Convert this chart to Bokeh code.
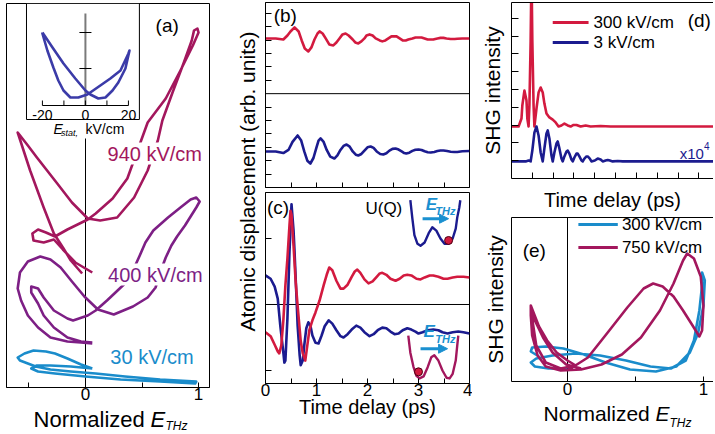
import math
from bokeh.plotting import figure
from bokeh.models import Range1d, FixedTicker, Label, LinearAxis, Arrow, NormalHead
from bokeh.layouts import row, column
from bokeh.embed import file_html
from bokeh.resources import INLINE

FONT = "Liberation Sans"
C940 = "#a3175d"
C400 = "#7d1f85"
C30 = "#1a8ccb"
NAVY = "#1b1b8f"
RED = "#d31a3f"
INSET = "#3b3ba8"
EBLUE = "#1a90d0"

# ---------------- panel (a): trajectories vs normalized E_THz ----------------
a940_x = [-0.03, -0.13, -0.20, -0.28, -0.37, -0.49, -0.60, -0.51, -0.43, -0.25, -0.12, 0.02,
          0.13, 0.28, 0.43, 0.55, 0.64, 0.68, 0.77, 0.87, 0.94, 0.96, 0.99, 1.00, 0.95, 0.84,
          0.71, 0.55, 0.46, 0.37, 0.24, 0.09, 0.02, -0.16, -0.27, -0.35, -0.42, -0.47, -0.46,
          -0.37, -0.28, -0.20, -0.09, 0.06]
a940_y = [1.14, 1.27, 1.40, 1.54, 1.80, 2.17, 2.55, 2.42, 2.30, 2.04, 1.85, 1.69,
          1.67, 1.70, 1.90, 2.17, 2.47, 2.67, 2.95, 3.25, 3.47, 3.57, 3.59, 3.55, 3.42, 3.17,
          2.89, 2.65, 2.37, 2.09, 1.89, 1.74, 1.68, 1.58, 1.51, 1.55, 1.58, 1.54, 1.47,
          1.45, 1.48, 1.38, 1.25, 1.15]
a400_x = [0.06, -0.04, -0.16, -0.31, -0.42, -0.51, -0.57, -0.60, -0.58, -0.51, -0.40, -0.31,
          -0.22, -0.12, -0.01, 0.11, 0.25, 0.42, 0.55, 0.62, 0.66, 0.71, 0.76, 0.81, 0.88,
          0.93, 0.98, 1.01, 0.98, 0.93, 0.84, 0.73, 0.60, 0.53, 0.48, 0.42, 0.34, 0.19, 0.09,
          0.02, -0.11, -0.16, -0.28, -0.37, -0.42, -0.48, -0.48, -0.42, -0.37, -0.28, -0.16,
          -0.04, 0.06]
a400_y = [0.44, 0.45, 0.46, 0.50, 0.60, 0.72, 0.87, 0.99, 1.15, 1.26, 1.31, 1.28,
          1.20, 1.06, 0.91, 0.78, 0.73, 0.81, 0.90, 1.00, 1.15, 1.30, 1.42, 1.51, 1.62,
          1.71, 1.80, 1.86, 1.90, 1.88, 1.80, 1.70, 1.57, 1.45, 1.32, 1.17, 1.03, 0.87, 0.77,
          0.72, 0.67, 0.69, 0.77, 0.90, 0.99, 1.01, 0.95, 0.84, 0.72, 0.60, 0.50,
          0.46, 0.45]
a30_x = [0.06, -0.04, -0.16, -0.27, -0.35, -0.46, -0.54, -0.60, -0.58, -0.51, -0.44, -0.31,
         -0.13, 0.09, 0.35, 0.66, 0.98, 0.97, 0.66, 0.31, 0.00, -0.27, -0.42, -0.48, -0.43,
         -0.31, -0.13, 0.06]
a30_y = [0.19, 0.23, 0.29, 0.34, 0.36, 0.37, 0.34, 0.30, 0.27, 0.24, 0.21, 0.18,
         0.16, 0.14, 0.11, 0.08, 0.06, 0.04, 0.06, 0.08, 0.11, 0.14, 0.16, 0.19, 0.22,
         0.22, 0.21, 0.19]
a_ticks = [-0.5, 0, 0.5, 1]

# inset of (a): static-field loop
ins_E = [-20.0, -15.3, -10.2, -4.7, 0.0, 2.3, 6.0, 9.3, 12.6, 15.3, 18.6, 20.5,
         20.0, 16.3, 11.6, 5.6, 0.9, -3.3, -7.0, -10.2, -12.6, -14.9, -17.7, -20.0, -20.0]
ins_y = [73, 58, 42, 27, 15, 11, 7, 8, 15, 23, 37, 55,
         52, 35, 27, 18, 11, 8, 8, 15, 25, 38, 55, 72, 73]
ins_ticks = [-20, -10, 0, 10, 20]
ins_labels = ["-20", "0", "20"]
ins_label_pos = [-20, 0, 20]

# ---------------- panel (b) ----------------
b_t_red = [0.00, 0.20, 0.35, 0.43, 0.49, 0.57, 0.65, 0.71, 0.77, 0.84, 0.90, 0.96, 1.02, 1.06, 1.12,
           1.18, 1.25, 1.33, 1.39, 1.45, 1.51, 1.57, 1.63, 1.71, 1.76, 1.82, 1.88, 1.94, 1.98, 2.04,
           2.10, 2.16, 2.24, 2.29, 2.35, 2.41, 2.47, 2.51, 2.57, 2.63, 2.69, 2.75, 2.80, 2.88, 2.94,
           3.00, 3.06, 3.12, 3.18, 3.24, 3.29, 3.37, 3.43, 3.49, 3.55, 3.63, 3.71, 3.76, 3.86, 4.00]
b_red = [11.12, 11.12, 11.04, 11.34, 11.64, 11.94, 11.64, 10.97, 10.37, 10.15, 10.45, 11.04, 11.49,
         11.64, 11.49, 11.12, 10.67, 10.60, 10.82, 11.12, 11.42, 11.49, 11.34, 11.04, 10.82, 10.75,
         10.90, 11.12, 11.34, 11.42, 11.34, 11.12, 10.97, 10.90, 10.97, 11.12, 11.27, 11.27, 11.27,
         11.12, 10.97, 10.97, 11.04, 11.12, 11.19, 11.19, 11.19, 11.12, 11.04, 11.04, 11.04, 11.12,
         11.16, 11.16, 11.12, 11.08, 11.08, 11.10, 11.12, 11.12]
b_t_navy = [0.00, 0.20, 0.35, 0.45, 0.53, 0.63, 0.70, 0.76, 0.82, 0.88, 0.94, 1.00, 1.04, 1.08, 1.14,
            1.20, 1.27, 1.35, 1.41, 1.47, 1.53, 1.59, 1.65, 1.71, 1.77, 1.82, 1.88, 1.94, 2.00, 2.06,
            2.12, 2.18, 2.25, 2.31, 2.37, 2.43, 2.49, 2.55, 2.61, 2.67, 2.72, 2.76, 2.82, 2.88, 2.94,
            3.00, 3.06, 3.12, 3.18, 3.24, 3.31, 3.37, 3.43, 3.49, 3.56, 3.63, 3.70, 3.76, 3.86, 4.00]
b_navy = [2.69, 2.69, 2.57, 2.80, 3.40, 3.88, 3.50, 2.69, 2.00, 1.79, 2.20, 3.00, 3.50, 3.66, 3.40,
          2.80, 2.30, 2.16, 2.40, 2.80, 3.10, 3.21, 3.05, 2.69, 2.45, 2.39, 2.50, 2.75, 3.00, 3.06,
          2.95, 2.69, 2.50, 2.46, 2.55, 2.75, 2.88, 2.91, 2.83, 2.69, 2.57, 2.54, 2.60, 2.73, 2.82,
          2.84, 2.80, 2.70, 2.63, 2.61, 2.65, 2.72, 2.76, 2.76, 2.72, 2.67, 2.65, 2.65, 2.70, 2.72]
b_xticks = [0.5, 1, 1.5, 2, 2.5, 3, 3.5]
b_yticks = [1, 2, 3, 4, 5, 6, 8, 9, 10, 11, 12, 13]
b_divider = 7

# ---------------- panel (c) ----------------
c_t_navy = [0.00, 0.10, 0.18, 0.24, 0.29, 0.35, 0.37, 0.39, 0.43, 0.47, 0.51, 0.55, 0.57, 0.61, 0.63,
            0.67, 0.69, 0.73, 0.76, 0.80, 0.84, 0.88, 0.92, 0.98, 1.04, 1.10, 1.16, 1.24, 1.31, 1.39,
            1.47, 1.53, 1.61, 1.69, 1.78, 1.86, 1.94, 2.04, 2.12, 2.20, 2.29, 2.37, 2.45, 2.53, 2.61,
            2.69, 2.78, 2.86, 2.94, 3.00, 3.08, 3.18, 3.29, 3.39, 3.47, 3.57, 3.67, 3.78, 3.88, 4.00]
c_navy = [2.44, 2.39, 2.27, 2.09, 1.68, 1.27, 1.12, 1.15, 1.79, 2.79, 3.52, 3.12, 2.79, 2.06, 1.68,
          1.23, 1.08, 1.15, 1.38, 1.64, 1.73, 1.68, 1.53, 1.42, 1.41, 1.53, 1.67, 1.76, 1.71, 1.61,
          1.52, 1.50, 1.55, 1.62, 1.68, 1.65, 1.58, 1.52, 1.55, 1.61, 1.65, 1.64, 1.59, 1.55, 1.56,
          1.61, 1.64, 1.62, 1.59, 1.56, 1.58, 1.61, 1.62, 1.61, 1.58, 1.56, 1.58, 1.59, 1.58, 1.56]
c_t_red = [0.00, 0.10, 0.18, 0.24, 0.27, 0.31, 0.35, 0.39, 0.43, 0.47, 0.49, 0.51, 0.55, 0.59, 0.63,
           0.69, 0.73, 0.78, 0.82, 0.86, 0.92, 0.98, 1.06, 1.14, 1.20, 1.25, 1.31, 1.39, 1.47, 1.53,
           1.61, 1.69, 1.75, 1.80, 1.86, 1.94, 2.02, 2.10, 2.18, 2.24, 2.29, 2.37, 2.45, 2.55, 2.63,
           2.71, 2.78, 2.86, 2.96, 3.04, 3.12, 3.22, 3.29, 3.39, 3.49, 3.57, 3.67, 3.76, 3.88, 4.00]
c_red = [1.58, 1.52, 1.39, 1.29, 1.26, 1.38, 1.76, 2.29, 2.70, 3.20, 3.42, 3.36, 2.89, 2.36, 1.98,
         1.45, 1.26, 1.15, 1.38, 1.61, 1.76, 1.88, 2.06, 2.29, 2.45, 2.56, 2.52, 2.36, 2.24, 2.24,
         2.30, 2.42, 2.50, 2.53, 2.48, 2.38, 2.32, 2.35, 2.42, 2.47, 2.48, 2.45, 2.39, 2.36, 2.39,
         2.44, 2.45, 2.44, 2.39, 2.38, 2.41, 2.44, 2.44, 2.42, 2.39, 2.39, 2.41, 2.42, 2.42, 2.41]
c_xticks = [0, 0.5, 1, 1.5, 2, 2.5, 3, 3.5, 4]
c_yticks = [1, 3]
c_divider = 2
# schematic double-well potentials U(Q)
well_up_t = [2.84, 2.88, 2.92, 2.98, 3.04, 3.12, 3.20, 3.27, 3.35, 3.43, 3.51, 3.59, 3.67, 3.73, 3.76, 3.80, 3.82]
well_up_u = [3.58, 3.30, 3.05, 2.92, 2.89, 2.94, 3.08, 3.17, 3.12, 3.00, 2.92, 2.92, 3.00, 3.15, 3.32, 3.47, 3.58]
well_lo_t = [2.80, 2.84, 2.90, 2.96, 3.02, 3.10, 3.18, 3.25, 3.31, 3.39, 3.47, 3.55, 3.61, 3.67, 3.73, 3.76, 3.78]
well_lo_u = [1.53, 1.27, 1.06, 0.92, 0.88, 0.91, 1.05, 1.20, 1.23, 1.15, 1.00, 0.89, 0.88, 0.95, 1.15, 1.38, 1.53]
ball_t = [3.59, 3.00]
ball_u = [2.97, 0.98]

# ---------------- panel (d) ----------------
d_t_red = [0, 0.17, 0.24, 0.26, 0.31, 0.36, 0.38, 0.41, 0.43, 0.46, 0.48, 0.50, 0.53, 0.55, 0.60,
           0.65, 0.70, 0.75, 0.79, 0.84, 0.91, 0.99, 1.06, 1.13, 1.20, 1.27, 1.35, 1.42, 1.49, 1.56,
           1.66, 1.78, 1.90, 2.14, 2.38, 4.90]
d_red = [2.92, 2.92, 3.37, 4.10, 4.94, 4.38, 3.37, 2.92, 4.10, 7.75, 11.7, 7.75, 4.10, 2.92, 3.93,
         4.83, 5.11, 4.83, 4.21, 3.65, 3.43, 3.31, 3.15, 2.92, 2.98, 3.09, 2.98, 2.92, 3.01, 3.01,
         2.92, 2.98, 2.92, 2.95, 2.92, 2.92]
d_t_navy = [0, 0.34, 0.41, 0.46, 0.50, 0.55, 0.60, 0.65, 0.70, 0.75, 0.79, 0.84, 0.87, 0.91, 0.96,
            0.99, 1.03, 1.08, 1.11, 1.15, 1.20, 1.23, 1.27, 1.32, 1.35, 1.39, 1.44, 1.47, 1.51, 1.56,
            1.59, 1.63, 1.68, 1.71, 1.75, 1.80, 1.83, 1.88, 1.92, 2.00, 2.07, 2.14, 2.19, 2.26, 2.31,
            2.36, 2.43, 2.55, 2.67, 4.90]
d_navy = [0.96, 0.96, 1.01, 0.96, 1.57, 2.58, 2.92, 2.42, 1.46, 0.96, 1.69, 2.53, 2.70, 2.25, 1.29,
          0.96, 1.46, 1.97, 2.08, 1.69, 1.12, 0.96, 1.24, 1.52, 1.57, 1.40, 1.07, 0.96, 1.18, 1.40,
          1.40, 1.24, 1.01, 0.96, 1.12, 1.24, 1.24, 1.12, 0.96, 1.01, 1.12, 1.07, 0.96, 1.01, 1.04,
          1.01, 0.96, 0.98, 0.96, 0.96]
d_xticks = [0.5, 1, 1.5, 2, 2.5, 3, 3.5, 4, 4.5]
d_yticks = [1, 2, 3, 4, 5, 6, 7, 8, 9]
d_series = ["300 kV/cm", "3 kV/cm"]

# ---------------- panel (e) ----------------
e300_x = [0, -0.14, -0.24, -0.27, -0.23, -0.11, 0.06, 0.24, 0.43, 0.61, 0.76, 0.87, 0.93, 0.97, 0.99,
          0.99, 1.01, 1.00, 0.96, 0.90, 0.80, 0.65, 0.46, 0.28, 0.12, -0.03, -0.16, -0.26, -0.27, -0.21]
e300_y = [0.13, 0.13, 0.15, 0.19, 0.23, 0.26, 0.28, 0.26, 0.21, 0.15, 0.13, 0.21, 0.41, 0.71, 0.96,
          1.09, 1.01, 0.76, 0.48, 0.29, 0.15, 0.10, 0.12, 0.19, 0.27, 0.33, 0.35, 0.34, 0.30, 0.25]
e750_x = [0, 0.15, 0.29, 0.44, 0.56, 0.63, 0.70, 0.78, 0.85, 0.92, 0.97, 0.99, 1.00, 0.98, 0.93,
          0.88, 0.85, 0.78, 0.68, 0.54, 0.40, 0.25, 0.10, -0.05, -0.16, -0.22, -0.26, -0.27, -0.27, -0.25,
          -0.21, -0.15, -0.08, 0, 0.06, -0.05, -0.16, -0.23, -0.26, -0.27, -0.24, -0.18, -0.11, -0.01, 0.10]
e750_y = [0.11, 0.24, 0.48, 0.74, 0.93, 0.98, 0.95, 0.85, 0.71, 0.56, 0.45, 0.51, 0.76, 1.05, 1.23,
          1.28, 1.21, 0.98, 0.71, 0.44, 0.27, 0.17, 0.12, 0.11, 0.15, 0.26, 0.46, 0.66, 0.76, 0.69,
          0.55, 0.41, 0.29, 0.21, 0.16, 0.13, 0.19, 0.36, 0.63, 0.75, 0.61, 0.44, 0.29, 0.17, 0.13]
e_xticks = [0, 0.5, 1]
e_series = ["300 kV/cm", "750 kV/cm"]


# ---------------- helpers ----------------
def base_fig(w, h, xr, yr, l, r, t, b, outline=True):
    p = figure(width=w, height=h, x_range=Range1d(*xr), y_range=Range1d(*yr),
               x_axis_location=None, y_axis_location=None,
               output_backend="svg", toolbar_location=None,
               min_border_left=l, min_border_right=r, min_border_top=t, min_border_bottom=b)
    p.outline_line_color = "black" if outline else None
    p.outline_line_width = 1
    p.background_fill_color = "white"
    p.border_fill_color = "white"
    p.grid.visible = False
    return p


def add_axis(p, side, ticks, overrides=None, tick_in=5, label_size="17px", label_standoff=0,
             title=None, title_size="20px", title_standoff=0, line=True):
    ax = LinearAxis(ticker=FixedTicker(ticks=ticks))
    ax.major_tick_in = tick_in
    ax.major_tick_out = 0
    ax.minor_tick_in = 0
    ax.minor_tick_out = 0
    ax.major_tick_line_color = "black"
    ax.major_tick_line_width = 1
    ax.axis_line_color = "black" if line else None
    ax.major_label_standoff = label_standoff
    ax.major_label_text_font = FONT
    ax.major_label_text_color = "black"
    if overrides is None:
        ax.major_label_text_font_size = "0px"
        ax.major_label_overrides = {tk: "" for tk in ticks}
    else:
        ax.major_label_text_font_size = label_size
        ax.major_label_overrides = overrides
    if title:
        ax.axis_label = title
        ax.axis_label_text_font = FONT
        ax.axis_label_text_font_size = title_size
        ax.axis_label_text_font_style = "normal"
        ax.axis_label_text_color = "black"
        ax.axis_label_standoff = title_standoff
    p.add_layout(ax, side)
    return ax


def lab(p, x, y, text, size="17px", color="black", align="left", baseline="middle",
        style="normal", angle=0.0, bg=None, xr="default", yr="default"):
    l = Label(x=x, y=y, text=text, text_font=FONT, text_font_size=size, text_color=color,
              text_align=align, text_baseline=baseline, text_font_style=style, angle=angle,
              x_range_name=xr, y_range_name=yr)
    if bg:
        l.background_fill_color = bg
    p.add_layout(l)


A_XR = (-0.699, 1.097)
E_XR = (-0.412, 1.074)

# ---------------- figure (a) ----------------
pa = base_fig(230, 406, A_XR, (0, 3.84), 6, 21, 3, 19)
pa.extra_x_ranges = {"ins": Range1d(-36.7, 57.7)}
pa.extra_y_ranges = {"ins": Range1d(-282, 102)}
add_axis(pa, "below", a_ticks, overrides={-0.5: "", 0.5: ""}, tick_in=5, label_standoff=0)
pa.segment(x0=[0], y0=[0], x1=[0], y1=[2.49], line_color="black", line_width=1)
pa.line(a30_x, a30_y, line_color=C30, line_width=2.6, line_join="round")
pa.line(a400_x, a400_y, line_color=C400, line_width=2.6, line_join="round")
pa.line(a940_x, a940_y, line_color=C940, line_width=2.6, line_join="round")
# inset
pa.quad(left=[-27.4], right=[25.1], bottom=[-14], top=[102], fill_color="white",
        line_color="black", line_width=1, x_range_name="ins", y_range_name="ins")
pa.segment(x0=[0], y0=[0], x1=[0], y1=[92], line_color="#7a7a7a", line_width=2,
           x_range_name="ins", y_range_name="ins")
pa.segment(x0=[-20], y0=[0], x1=[20], y1=[0], line_color="black", line_width=1,
           x_range_name="ins", y_range_name="ins")
pa.segment(x0=ins_ticks, y0=[0] * 5, x1=ins_ticks, y1=[5] * 5, line_color="black",
           line_width=1, x_range_name="ins", y_range_name="ins")
pa.segment(x0=[-2.8, -2.8], y0=[37, 73], x1=[2.8, 2.8], y1=[37, 73], line_color="black",
           line_width=1, x_range_name="ins", y_range_name="ins")
pa.line(ins_E, ins_y, line_color=INSET, line_width=2.6, line_join="round",
        x_range_name="ins", y_range_name="ins")
for pos, txt in zip(ins_label_pos, ins_labels):
    lab(pa, pos, -9, txt, size="14px", align="center", xr="ins", yr="ins")
lab(pa, -14.9, -23, "E", size="14px", style="italic", xr="ins", yr="ins")
lab(pa, -11.4, -27, "stat,", size="9px", style="italic", xr="ins", yr="ins")
lab(pa, 0.0, -23, "kV/cm", size="14px", xr="ins", yr="ins")
lab(pa, 0.62, 3.62, "(a)", size="19px")
lab(pa, 0.195, 2.34, "940 kV/cm", size="20px", color=C940, bg="white")
lab(pa, 0.20, 1.13, "400 kV/cm", size="20px", color=C400, bg="white")
lab(pa, 0.22, 0.31, "30 kV/cm", size="20px", color=C30)

# x-axis title strip of (a): its frame is aligned with panel (a), same x scale
pa_t = base_fig(230, 26, A_XR, (0, 26), 6, 21, 0, 0, outline=False)
lab(pa_t, -0.46, 13.5, "Normalized", size="22px")
lab(pa_t, 0.575, 13.5, "E", size="22px", style="italic")
lab(pa_t, 0.708, 7.0, "THz", size="12px", style="italic")

# y-axis title strip shared by (b) and (c)
py_t = base_fig(30, 432, (0, 30), (0, 432), 0, 0, 0, 0, outline=False)
lab(py_t, 16.5, 251, "Atomic displacement (arb. units)", size="21px", align="center",
    angle=math.pi / 2)

# ---------------- figure (b) ----------------
pb = base_fig(212, 191, (0, 4), (0, 13.8), 5, 3, 2, 4)
add_axis(pb, "below", b_xticks, tick_in=5)
add_axis(pb, "left", b_yticks, tick_in=6)
pb.segment(x0=[0], y0=[b_divider], x1=[4], y1=[b_divider], line_color="black", line_width=1)
pb.line(b_t_red, b_red, line_color=RED, line_width=2.6, line_join="round")
pb.line(b_t_navy, b_navy, line_color=NAVY, line_width=2.6, line_join="round")
lab(pb, 0.16, 12.84, "(b)", size="19px")

# ---------------- figure (c) ----------------
pc = base_fig(212, 241, (0, 4), (0.803, 3.697), 5, 3, 1, 49)
add_axis(pc, "below", c_xticks, overrides={0.5: "", 1.5: "", 2.5: "", 3.5: ""}, tick_in=5,
         label_standoff=0, title="Time delay (ps)", title_size="20px", title_standoff=-3)
add_axis(pc, "left", c_yticks, tick_in=6)
pc.segment(x0=[0], y0=[c_divider], x1=[4], y1=[c_divider], line_color="black", line_width=1)
pc.line(c_t_navy, c_navy, line_color=NAVY, line_width=2.6, line_join="round")
pc.line(c_t_red, c_red, line_color=RED, line_width=2.6, line_join="round")
pc.line(well_up_t, well_up_u, line_color=NAVY, line_width=2.4, line_join="round")
pc.line(well_lo_t, well_lo_u, line_color=C940, line_width=2.4, line_join="round")
pc.scatter(ball_t, ball_u, size=8, fill_color=RED, line_color="#4a0010", line_width=1)
for (xs, xe, yy) in [(3.08, 3.59, 3.30), (3.04, 3.57, 1.33)]:
    pc.add_layout(Arrow(end=NormalHead(size=9, fill_color=EBLUE, line_color=EBLUE),
                        x_start=xs, y_start=yy, x_end=xe, y_end=yy,
                        line_color=EBLUE, line_width=3))
lab(pc, 0.03, 3.47, "(c)", size="19px")
lab(pc, 1.96, 3.45, "U(Q)", size="17px")
lab(pc, 3.14, 3.52, "E", size="17px", color=EBLUE, style="bold italic")
lab(pc, 3.33, 3.42, "THz", size="11px", color=EBLUE, style="bold italic")
lab(pc, 3.10, 1.59, "E", size="17px", color=EBLUE, style="bold italic")
lab(pc, 3.33, 1.47, "THz", size="11px", color=EBLUE, style="bold italic")

# ---------------- figure (d) ----------------
pd_ = base_fig(241, 214, (0, 4.85), (0, 9.89), 39, 0, 2, 36, outline=False)
add_axis(pd_, "below", d_xticks, tick_in=6, title="Time delay (ps)", title_size="20px",
         title_standoff=10)
add_axis(pd_, "left", d_yticks, tick_in=7, title="SHG intensity", title_size="21px",
         title_standoff=8)
add_axis(pd_, "above", [], tick_in=0)
pd_.line(d_t_red, d_red, line_color=RED, line_width=2.6, line_join="round")
pd_.line(d_t_navy, d_navy, line_color=NAVY, line_width=2.6, line_join="round")
pd_.segment(x0=[0.99, 0.99], y0=[8.76, 7.64], x1=[1.85, 1.85], y1=[8.76, 7.64],
            line_color=[RED, NAVY], line_width=3)
lab(pd_, 1.97, 8.76, d_series[0], size="17px")
lab(pd_, 1.97, 7.64, d_series[1], size="17px")
lab(pd_, 4.23, 8.88, "(d)", size="19px")
lab(pd_, 4.04, 1.40, "x10", size="15px", color=NAVY)
lab(pd_, 4.62, 1.80, "4", size="10px", color=NAVY)

# ---------------- figure (e) ----------------
pe = base_fig(241, 187, E_XR, (0, 1.64), 39, 0, 3, 20, outline=False)
add_axis(pe, "below", e_xticks, overrides={0.5: ""}, tick_in=5, label_standoff=1)
add_axis(pe, "left", [], tick_in=0, title="SHG intensity", title_size="21px", title_standoff=5)
add_axis(pe, "above", [], tick_in=0)
pe.segment(x0=[0], y0=[0], x1=[0], y1=[1.64], line_color="black", line_width=1)
pe.line(e300_x, e300_y, line_color=C30, line_width=2.6, line_join="round")
pe.line(e750_x, e750_y, line_color=C940, line_width=2.6, line_join="round")
pe.segment(x0=[0.08, 0.08], y0=[1.57, 1.34], x1=[0.37, 0.37], y1=[1.57, 1.34],
           line_color=[C30, C940], line_width=3)
lab(pe, 0.40, 1.57, e_series[0], size="17px")
lab(pe, 0.40, 1.34, e_series[1], size="17px")
lab(pe, -0.33, 1.31, "(e)", size="19px")

# x-axis title strip of (e): frame aligned with panel (e), same x scale
pe_t = base_fig(241, 31, E_XR, (0, 31), 39, 0, 0, 0, outline=False)
lab(pe_t, -0.176, 19.0, "Normalized", size="21px")
lab(pe_t, 0.647, 19.0, "E", size="21px", style="italic")
lab(pe_t, 0.75, 10.0, "THz", size="12px", style="italic")

layout = row(column(pa, pa_t), py_t, column(pb, pc), column(pd_, pe, pe_t))
open("out.html", "w").write(file_html(layout, INLINE))
